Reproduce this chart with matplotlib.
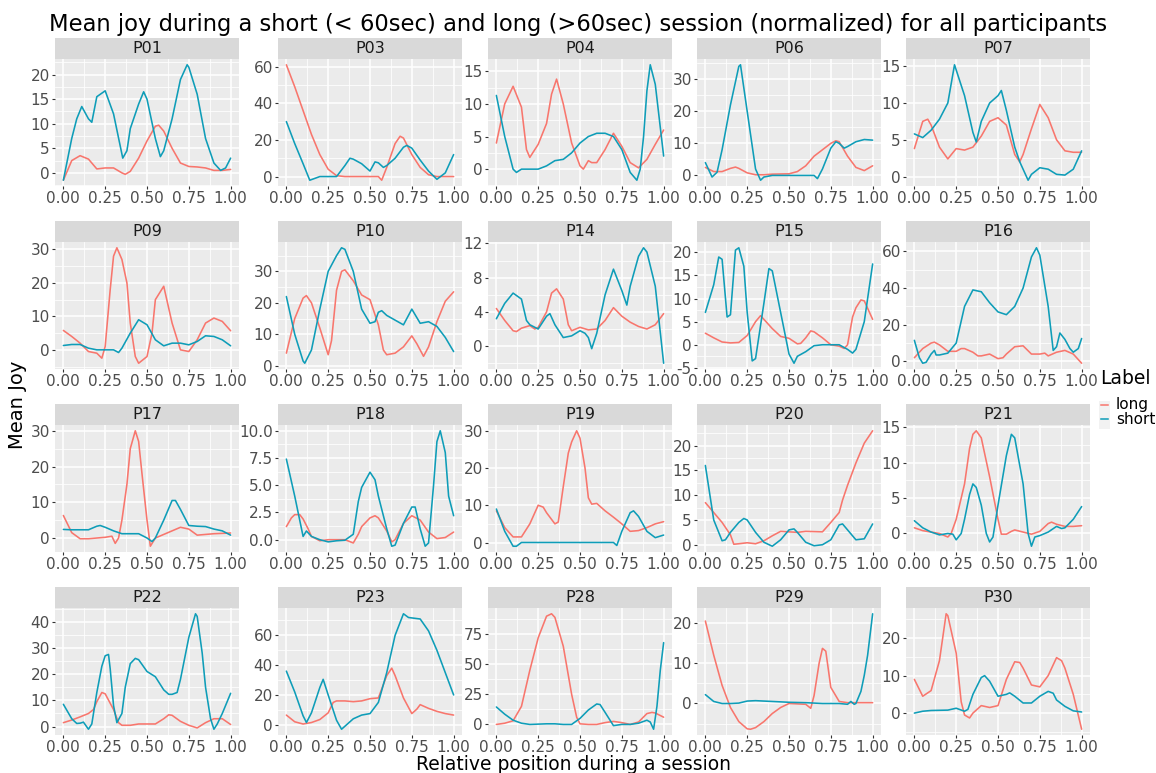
import numpy as np
import matplotlib
matplotlib.use("Agg")
import matplotlib.pyplot as plt
from matplotlib.lines import Line2D
from matplotlib.patches import Rectangle

plt.rcParams['font.family'] = ['DejaVu Sans']

title = "Mean joy during a short (< 60sec) and long (>60sec) session (normalized) for all participants"
x_label = "Relative position during a session"
y_label = "Mean Joy"
legend_title = "Label"
labels = ["long", "short"]
participants = ["P01", "P03", "P04", "P06", "P07",
                "P09", "P10", "P14", "P15", "P16",
                "P17", "P18", "P19", "P20", "P21",
                "P22", "P23", "P28", "P29", "P30"]
x_ticks = [0.0, 0.25, 0.5, 0.75, 1.0]

# (relative position, mean joy)
p01_long = [(0,-1.5),(.05,2.5),(.1,3.5),(.15,2.8),(.2,.8),(.25,1),(.3,1),(.35,0),(.37,-.3),(.4,.3),(.45,3),(.5,6.5),(.55,9.5),(.57,9.7),(.6,8.5),(.65,5),(.7,2),(.75,1.3),(.8,1.2),(.85,1),(.9,.5),(.95,.5),(1,.7)]
p01_short = [(0,-1.5),(.05,7),(.08,11),(.11,13.5),(.15,11),(.17,10.3),(.2,15.5),(.25,16.7),(.3,12),(.355,3),(.38,4.5),(.4,9),(.45,14),(.48,16.5),(.5,15),(.55,7),(.58,3.3),(.6,4.5),(.65,11),(.7,19),(.74,22),(.75,21.5),(.8,16),(.85,7),(.9,2),(.94,.5),(.97,1),(1,3)]
p03_long = [(0,61),(.05,49),(.1,36),(.15,23),(.2,12),(.25,4),(.3,.5),(.35,0),(.45,0),(.55,0),(.57,-2),(.6,5),(.65,18),(.68,22),(.7,21),(.75,12),(.8,5),(.85,1),(.9,0),(.95,0),(1,0)]
p03_short = [(0,30),(.05,18),(.1,7),(.14,-2),(.17,-1),(.2,0),(.25,0),(.3,0),(.35,6),(.38,10),(.4,9.5),(.45,7),(.5,3),(.53,8),(.55,7.5),(.58,5),(.6,6),(.65,10),(.7,16),(.72,17),(.75,15.5),(.8,9),(.85,3),(.9,-1.5),(.95,2),(1,12)]
p04_long = [(0,4),(.05,10),(.1,12.7),(.15,9.5),(.18,3),(.2,1.8),(.25,3.8),(.3,7),(.33,11.5),(.36,13.8),(.4,10),(.45,4),(.5,.5),(.52,0),(.55,1.3),(.57,1),(.6,1),(.65,3),(.7,5.5),(.75,3.5),(.8,1),(.85,.2),(.9,1.5),(.95,3.8),(1,6)]
p04_short = [(0,11.3),(.05,5),(.1,0),(.12,-.5),(.15,0),(.25,0),(.3,.5),(.35,1.3),(.4,1.5),(.45,2.5),(.5,4),(.55,5),(.6,5.5),(.65,5.5),(.7,5),(.75,3),(.8,-.5),(.84,-1.7),(.86,0),(.88,5),(.9,12),(.92,16),(.95,13),(1,2)]
p06_long = [(0,2.5),(.05,1.2),(.1,1.2),(.15,2.2),(.18,2.6),(.2,2.2),(.25,.8),(.3,.2),(.35,.2),(.4,.4),(.5,.5),(.55,1.2),(.6,3),(.65,6),(.7,8),(.75,10),(.78,10.8),(.8,10.5),(.85,6),(.9,2.5),(.95,1.5),(1,3)]
p06_short = [(0,4),(.04,-.5),(.07,1),(.1,8),(.15,22),(.2,34),(.21,34.5),(.25,20),(.3,2),(.33,-1.5),(.35,-.5),(.4,0),(.65,0),(.67,-1),(.7,2),(.75,8.5),(.78,10.5),(.8,10),(.83,8.5),(.85,9),(.9,10.5),(.95,11.2),(1,11)]
p07_long = [(0,3.8),(.05,7.5),(.08,7.8),(.1,7),(.15,4),(.2,2.4),(.25,3.8),(.3,3.6),(.35,4),(.4,5.5),(.45,7.5),(.5,8),(.55,7),(.6,3),(.63,2),(.65,3),(.7,6.5),(.75,9.8),(.8,8),(.85,5),(.9,3.5),(.95,3.3),(1,3.3)]
p07_short = [(0,5.8),(.05,5.3),(.1,6.3),(.15,7.8),(.2,10),(.24,15.2),(.3,11),(.35,6),(.37,4.7),(.4,7.5),(.45,10),(.5,11),(.52,11.7),(.55,9),(.6,4),(.63,2),(.65,1),(.68,-.5),(.7,.3),(.75,1.2),(.8,1),(.85,.3),(.9,.2),(.95,1),(1,3.5)]
p09_long = [(0,5.8),(.05,4),(.1,2),(.15,-.5),(.2,-1),(.23,-2.5),(.25,1),(.28,18),(.3,28),(.32,30.5),(.35,27),(.38,20),(.4,8),(.43,-2),(.45,-4),(.5,-2),(.53,5),(.55,15),(.6,19),(.65,8),(.7,0),(.75,-.5),(.8,3),(.85,8),(.9,9.5),(.95,8.5),(1,5.7)]
p09_short = [(0,1.3),(.05,1.6),(.1,1.6),(.15,.5),(.2,0),(.3,0),(.33,-.8),(.35,.5),(.4,5),(.45,9),(.5,7.5),(.55,3),(.6,1.2),(.65,2),(.7,2),(.75,1.5),(.8,2.5),(.85,4.2),(.9,4),(.95,3),(1,1.2)]
p10_long = [(0,4),(.05,15),(.1,21.5),(.12,22.3),(.15,20),(.2,12),(.25,3.5),(.27,8),(.3,24),(.33,30),(.35,30.5),(.4,27),(.45,22.5),(.5,21),(.55,13),(.58,5),(.6,3.5),(.65,4),(.7,6),(.75,9.5),(.78,7),(.8,5),(.82,3),(.85,6),(.9,14),(.95,20.5),(1,23.5)]
p10_short = [(0,22),(.05,10),(.1,1.5),(.11,.8),(.15,5),(.2,18),(.25,30),(.3,35),(.33,37.5),(.35,37),(.4,30),(.45,18),(.5,13.5),(.53,14),(.55,17),(.57,17.5),(.6,16),(.65,14.5),(.7,13),(.73,16),(.75,18),(.8,13.5),(.85,14),(.9,12.5),(.95,9),(1,4.5)]
p14_long = [(0,4.4),(.05,3),(.1,1.8),(.12,1.7),(.15,2.1),(.2,2.4),(.23,2),(.25,2.2),(.3,4),(.33,6.2),(.36,6.7),(.4,5.5),(.43,2.5),(.45,1.8),(.5,2.2),(.55,1.9),(.6,2),(.65,3),(.7,4.5),(.75,3.5),(.8,2.8),(.85,2.3),(.9,2),(.95,2.5),(1,3.8)]
p14_short = [(0,3.2),(.05,5),(.1,6.2),(.15,5.5),(.18,3),(.2,2.5),(.25,2),(.3,3.5),(.32,3.8),(.35,2.5),(.4,1),(.45,1.2),(.5,1.8),(.53,1.5),(.55,1),(.57,-.3),(.6,1.5),(.65,6),(.7,9),(.75,6.5),(.78,4.8),(.8,7),(.85,10.5),(.88,11.5),(.9,11),(.95,7),(1,-2)]
p15_long = [(0,2.5),(.05,1.5),(.1,.6),(.15,.4),(.2,.5),(.25,2),(.3,5),(.33,6.3),(.35,5.5),(.4,3.5),(.45,1.8),(.5,1.4),(.55,.2),(.57,.3),(.6,1.5),(.63,3),(.65,2.8),(.7,1.5),(.75,0),(.8,-.3),(.83,-.8),(.85,0),(.88,6),(.9,8),(.93,9.7),(.95,9.5),(1,5.5)]
p15_short = [(0,7),(.05,13),(.08,19),(.1,18.5),(.13,6),(.15,6.5),(.18,20.5),(.2,21),(.23,17),(.25,7),(.28,-3.5),(.3,-3),(.35,9),(.38,16.5),(.4,16),(.45,7),(.5,-2),(.53,-4),(.55,-2.5),(.6,-1.5),(.65,-.2),(.7,0),(.8,0),(.85,-1),(.88,-1.8),(.9,-1),(.95,5),(1,17.5)]
p16_long = [(0,2),(.05,7),(.1,10),(.12,10.5),(.15,9),(.2,5.5),(.25,5.5),(.28,7),(.3,7),(.35,5),(.38,3),(.4,3),(.45,4),(.5,1.5),(.53,2),(.55,4),(.6,8),(.65,8.5),(.7,4),(.75,4),(.78,4.5),(.8,3),(.85,5),(.9,6),(.95,4),(1,-1)]
p16_short = [(0,11.5),(.03,2),(.05,-1),(.07,-.5),(.1,4),(.12,6),(.13,3.5),(.15,3.5),(.2,4.5),(.25,10),(.3,30),(.35,39),(.4,38),(.45,32),(.5,27),(.55,25.5),(.6,30),(.65,40),(.7,57),(.73,62),(.75,58),(.8,30),(.83,6),(.85,8),(.87,15.5),(.9,12),(.93,7),(.95,5),(.98,7),(1,12.5)]
p17_long = [(0,6.3),(.05,1.5),(.1,-.2),(.15,-.2),(.2,0),(.25,.2),(.29,.5),(.31,-1.5),(.33,0),(.35,5),(.38,15),(.4,25),(.43,30),(.45,27),(.47,18),(.5,5),(.52,-2.3),(.55,0),(.6,1),(.65,2),(.7,3),(.75,2.5),(.8,.8),(.85,1),(.9,1.2),(.95,1.3),(1,1.4)]
p17_short = [(0,2.4),(.05,2.3),(.15,2.3),(.2,3.3),(.22,3.5),(.25,3),(.3,2),(.35,1.2),(.45,1.2),(.5,0),(.53,-1),(.55,0),(.6,5),(.65,10.5),(.67,10.5),(.7,8),(.75,3.5),(.8,3.3),(.85,3.2),(.9,2.5),(.95,2),(1,.8)]
p18_long = [(0,1.2),(.03,2),(.05,2.3),(.08,2.3),(.1,1.9),(.13,1),(.15,.3),(.2,-.1),(.25,0),(.35,0),(.4,-.3),(.43,.5),(.45,1.2),(.5,2),(.53,2.2),(.55,2),(.6,.8),(.63,-.2),(.65,0),(.7,1.5),(.75,2.2),(.8,1.8),(.85,.7),(.9,.1),(.95,.2),(1,.7)]
p18_short = [(0,7.4),(.05,4),(.1,.3),(.12,.8),(.15,.3),(.2,0),(.25,-.2),(.3,-.1),(.35,-.05),(.4,.5),(.43,3.5),(.45,4.8),(.5,6.2),(.53,5.5),(.55,4),(.6,1),(.63,-.6),(.65,-.5),(.7,1.5),(.75,3),(.77,3),(.8,1),(.83,-.6),(.85,-.3),(.88,5),(.9,9),(.92,10),(.95,8),(.97,4),(1,2.2)]
p19_long = [(0,8.5),(.05,4),(.1,1.5),(.15,1.5),(.2,5),(.25,10),(.28,9.5),(.3,8),(.35,5),(.37,5.5),(.4,15),(.43,24),(.45,27),(.48,30),(.5,28),(.53,20),(.55,12),(.57,10.3),(.6,10.5),(.65,8.5),(.7,6.8),(.75,5),(.8,3),(.85,3.2),(.9,4),(.95,5),(1,5.6)]
p19_short = [(0,9),(.05,3),(.1,-1),(.12,-1),(.15,0),(.7,0),(.72,-.8),(.75,3),(.8,8),(.82,8.5),(.85,7),(.9,3),(.95,1.3),(1,2)]
p20_long = [(0,8.5),(.05,6.5),(.1,4.5),(.15,2),(.17,.1),(.2,.2),(.25,.4),(.3,.2),(.35,.8),(.4,1.8),(.45,2.7),(.5,2.6),(.55,2.5),(.6,2.7),(.7,2.6),(.75,4.5),(.8,6.5),(.82,9),(.85,12),(.9,16.5),(.95,20.5),(1,23)]
p20_short = [(0,16),(.05,5),(.1,.8),(.12,1),(.15,2.5),(.2,4.5),(.23,5.3),(.25,5),(.3,2.5),(.35,.5),(.4,-.3),(.45,1),(.5,3),(.53,3.2),(.55,2.5),(.6,.5),(.65,-.2),(.7,0),(.75,1),(.8,4),(.82,4.2),(.85,3),(.9,1),(.95,1.2),(1,4.2)]
p21_long = [(0,.8),(.05,.4),(.1,.2),(.15,0),(.2,-.5),(.22,0),(.25,2),(.3,7),(.33,12),(.35,14),(.37,14.5),(.4,13.5),(.45,8),(.5,2),(.52,-.1),(.55,-.1),(.58,.3),(.6,.5),(.65,.2),(.7,-.1),(.75,.3),(.8,1.4),(.82,1.6),(.85,1.3),(.9,1),(.95,1),(1,1.1)]
p21_short = [(0,1.8),(.05,.8),(.1,.2),(.15,-.2),(.2,0),(.23,-.1),(.25,-.9),(.28,0),(.3,2),(.33,5.5),(.35,7),(.37,6.5),(.4,4),(.43,0),(.45,-1.2),(.47,-.5),(.5,4),(.55,11),(.58,14),(.6,13.5),(.65,7),(.68,0),(.7,-1.8),(.72,-.5),(.75,-.3),(.8,.2),(.85,1),(.88,.7),(.9,.8),(.95,2),(1,3.8)]
p22_long = [(0,1.5),(.05,2.5),(.1,3.7),(.15,5),(.18,6.5),(.2,9.5),(.23,13),(.25,12.5),(.3,6.5),(.33,1.5),(.35,.5),(.4,.5),(.45,1),(.55,1),(.6,3),(.63,4.5),(.65,4.3),(.7,2),(.75,.5),(.8,-.5),(.85,1.5),(.9,3),(.95,3),(1,.8)]
p22_short = [(0,8.5),(.05,3),(.08,1.2),(.1,1.3),(.12,1.7),(.15,-1),(.17,1),(.2,13),(.23,23),(.25,27),(.27,27.5),(.28,22),(.3,8),(.32,1.5),(.35,5),(.37,15),(.4,24),(.43,26),(.45,25.5),(.5,21),(.55,19),(.6,14),(.63,12.3),(.65,12.3),(.68,13),(.7,18),(.75,34),(.79,43),(.8,42),(.83,28),(.85,15),(.88,3),(.9,-1),(.92,1),(.95,5),(1,12.7)]
p23_long = [(0,6.5),(.05,2),(.1,.5),(.15,1.5),(.2,3.5),(.25,8),(.28,15),(.3,16),(.35,16),(.4,15.5),(.45,16),(.5,17.5),(.55,18),(.6,33),(.63,38),(.65,33),(.7,18),(.75,7.5),(.78,10.5),(.8,13.5),(.85,11),(.9,9),(.95,7.5),(1,6.5)]
p23_short = [(0,36),(.05,22),(.1,6),(.12,1.5),(.15,8),(.2,25),(.22,30.5),(.25,20),(.3,3),(.33,-3),(.35,-1),(.4,4),(.45,6.5),(.5,7.5),(.55,15),(.6,35),(.65,60),(.7,74.5),(.73,72),(.8,71),(.85,63),(.9,50),(.95,35),(1,20)]
p28_long = [(0,0),(.05,1),(.1,3),(.15,15),(.2,45),(.25,72),(.3,90),(.33,92),(.35,89),(.4,65),(.45,25),(.48,6),(.5,.5),(.55,0),(.6,0),(.65,1.5),(.7,2.5),(.75,1.5),(.8,0),(.85,2),(.9,9),(.93,10),(.95,9.5),(1,6)]
p28_short = [(0,14.5),(.05,8.5),(.1,3.5),(.15,1),(.2,0),(.3,.5),(.35,.5),(.4,0),(.45,0),(.5,5),(.55,12),(.6,17),(.62,16.5),(.65,10),(.7,-1),(.75,0),(.8,0),(.85,1),(.9,3.5),(.92,2),(.94,-4),(.96,15),(.98,45),(1,68)]
p29_long = [(0,20.5),(.05,12),(.1,4.5),(.15,-1),(.2,-4.5),(.25,-6.3),(.27,-6.4),(.3,-6),(.35,-4.5),(.4,-2.5),(.45,-1),(.5,0),(.6,-.2),(.63,-1.2),(.65,2),(.68,10),(.7,13.7),(.72,13),(.75,4),(.8,.5),(.85,.2),(1,.2)]
p29_short = [(0,2.2),(.05,.5),(.1,0),(.15,0),(.2,.1),(.25,.6),(.3,.7),(.4,.5),(.5,.3),(.6,.2),(.7,0),(.8,0),(.85,-.2),(.87,.5),(.89,-.2),(.9,0),(.93,3),(.95,7),(.97,12),(1,22.3)]
p30_long = [(0,9),(.05,4.5),(.1,6),(.15,14),(.19,26.5),(.2,26),(.25,16),(.28,3),(.3,-.5),(.33,-1.3),(.35,0),(.4,2),(.45,1.5),(.5,2),(.55,9),(.6,13.7),(.63,13.5),(.65,12),(.7,7.5),(.75,7),(.8,10),(.85,14.8),(.88,14),(.9,12),(.95,5),(1,-4.3)]
p30_short = [(0,0),(.05,.5),(.1,.7),(.2,.8),(.25,1.3),(.3,.5),(.32,1),(.35,5),(.4,9.5),(.42,10),(.45,8.5),(.5,4.5),(.55,5),(.57,5.4),(.6,4.5),(.65,2.7),(.7,2.7),(.75,4.5),(.8,5.8),(.83,5.3),(.85,3.5),(.9,1.8),(.95,.6),(1,.3)]

# y-axis tick labels per panel
p01_yticks = [0, 5, 10, 15, 20]
p03_yticks = [0, 20, 40, 60]
p04_yticks = [0, 5, 10, 15]
p06_yticks = [0, 10, 20, 30]
p07_yticks = [0, 5, 10, 15]
p09_yticks = [0, 10, 20, 30]
p10_yticks = [0, 10, 20, 30]
p14_yticks = [0, 4, 8, 12]
p15_yticks = [-5, 0, 5, 10, 15, 20]
p16_yticks = [0, 20, 40, 60]
p17_yticks = [0, 10, 20, 30]
p18_yticks = [0.0, 2.5, 5.0, 7.5, 10.0]
p19_yticks = [0, 10, 20, 30]
p20_yticks = [0, 5, 10, 15, 20]
p21_yticks = [0, 5, 10, 15]
p22_yticks = [0, 10, 20, 30, 40]
p23_yticks = [0, 20, 40, 60]
p28_yticks = [0, 25, 50, 75]
p29_yticks = [0, 10, 20]
p30_yticks = [0, 10, 20]

# ---------------------------------------------------------------------------
g = globals()
panels = []
for p in participants:
    k = p.lower()
    panels.append((p, g[k + "_long"], g[k + "_short"], g[k + "_yticks"]))

colors = {"long": "#F8766D", "short": "#0E9DB8"}

W, H = 1156, 773
fig = plt.figure(figsize=(W / 100, H / 100), dpi=100)


def rect(l, t, w, h):
    return [l / W, 1 - (t + h) / H, w / W, h / H]


col_left = [55, 278, 488, 697, 906]
row_top = [38, 221, 404, 587]
pw, sh, ph = 184, 21, 127

for i, (name, long_pts, short_pts, yt) in enumerate(panels):
    r, c = divmod(i, 5)
    l, t = col_left[c], row_top[r]
    ax = fig.add_axes(rect(l, t + sh, pw, ph))
    ax.set_facecolor("#EBEBEB")
    for s in ax.spines.values():
        s.set_visible(False)
    ys = []
    for lab, pts in (("long", long_pts), ("short", short_pts)):
        xs, yv = zip(*pts)
        ax.plot(xs, yv, color=colors[lab], lw=1.15, solid_joinstyle="round",
                solid_capstyle="round", zorder=3)
        ys.extend(yv)
    lo, hi = min(ys), max(ys)
    pad = (hi - lo) * 0.05
    ax.set_ylim(lo - pad, hi + pad)
    ax.set_xlim(-0.05, 1.05)
    ax.set_xticks(x_ticks)
    ax.set_xticklabels(["%.2f" % v for v in x_ticks])
    ax.set_xticks([0.125, 0.375, 0.625, 0.875], minor=True)
    ax.set_yticks(yt)
    if any(float(v) != int(v) for v in yt):
        ax.set_yticklabels(["%.1f" % v for v in yt])
    else:
        ax.set_yticklabels([str(int(v)) for v in yt])
    step = yt[1] - yt[0]
    mins = [v - step / 2 for v in yt] + [yt[-1] + step / 2]
    mins = [m for m in mins if lo - pad <= m <= hi + pad]
    ax.set_yticks(mins, minor=True)
    ax.grid(which="major", color="white", lw=1.1, zorder=0)
    ax.grid(which="minor", color="white", lw=0.55, zorder=0)
    ax.set_axisbelow(True)
    ax.tick_params(which="major", length=2.5, width=0.8, color="#333333",
                   labelsize=11, labelcolor="#4D4D4D", pad=1.2)
    ax.tick_params(which="minor", length=0)
    sax = fig.add_axes(rect(l, t, pw, sh))
    sax.set_facecolor("#D9D9D9")
    sax.set_xticks([])
    sax.set_yticks([])
    for s in sax.spines.values():
        s.set_visible(False)
    sax.text(0.5, 0.48, name, ha="center", va="center", fontsize=11.5,
             color="#1A1A1A", transform=sax.transAxes)

fig.text(0.5, 1 - 30.5 / H, title, ha="center", va="baseline", fontsize=16.3)
fig.text(573 / W, 1 - 769.5 / H, x_label, ha="center", va="baseline", fontsize=13.5)
fig.text(18 / W, 1 - 405 / H, y_label, ha="center", va="center",
         rotation=90, fontsize=14)

# legend
fig.text(1100 / W, 1 - 378 / H, legend_title, ha="left", va="center", fontsize=13.5)
for j, lab in enumerate(labels):
    yc = 405 + j * 14
    fig.patches.append(Rectangle((1099 / W, 1 - (yc + 10) / H), 11 / W, 14 / H,
                                 transform=fig.transFigure, facecolor="#F2F2F2",
                                 edgecolor="none"))
    fig.lines.append(Line2D([1101 / W, 1108 / W], [1 - yc / H, 1 - yc / H],
                            transform=fig.transFigure, color=colors[lab], lw=1.1))
    fig.text(1116 / W, 1 - yc / H, lab, ha="left", va="center", fontsize=11)

fig.savefig("out.png", dpi=100)
